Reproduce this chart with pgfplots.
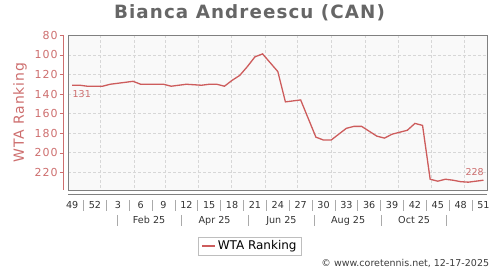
\documentclass[border=0pt]{standalone}
\usepackage{fontspec}
\setmainfont{DejaVu Sans}
\newfontfamily\titlefont[LetterSpace=6]{DejaVu Sans Bold}
\newfontfamily\ylabfont[LetterSpace=6]{DejaVu Sans}
\newfontfamily\ytickfont[LetterSpace=9]{DejaVu Sans}
\usepackage{pgfplots}
\pgfplotsset{compat=1.18}
\definecolor{lineC}{RGB}{205,92,92}
\definecolor{pinkT}{RGB}{205,110,110}
\definecolor{frameC}{RGB}{128,128,128}
\definecolor{gridC}{RGB}{215,215,215}
\definecolor{bgC}{RGB}{249,249,249}
\definecolor{titleC}{RGB}{102,102,102}
\definecolor{sepC}{RGB}{170,170,170}
\begin{document}
\begin{tikzpicture}
\path[use as bounding box] (0,0) rectangle (500pt,270pt);
\begin{axis}[
  at={(68.3pt,80pt)}, anchor=south west,
  scale only axis, width=419pt, height=154.7pt,
  xmin=-0.5, xmax=54.5, ymin=80, ymax=238, y dir=reverse,
  axis background/.style={fill=bgC},
  axis line style={frameC, line width=0.8pt},
  major tick length=0pt,
  xtick={3.75,8.18,12.18,16.61,20.90,25.33,29.62,34.05,38.48,42.77,47.20,51.49},
  xticklabels={},
  xmajorgrids, ymajorgrids,
  grid style={gridC, dash pattern=on 2.5pt off 2.5pt, line width=0.6pt},
  extra x ticks={0,3,6,9,12,15,18,21,24,27,30,33,36,39,42,45,48,51,54},
  extra x tick labels={49,52,3,6,9,12,15,18,21,24,27,30,33,36,39,42,45,48,51},
  extra x tick style={grid=none, major tick length=0pt,
    tick label style={anchor=base, inner sep=0pt, yshift=-18.3pt,
      font=\fontsize{9.6}{11}\selectfont, text={rgb,255:red,50;green,50;blue,50}}},
  ytick={80,100,120,140,160,180,200,220},
  yticklabels={80,100,120,140,160,180,200,220},
  yticklabel style={anchor=east, inner sep=0pt, xshift=-10.5pt,
    font=\ytickfont\fontsize{11}{12}\selectfont, text=pinkT},
  legend style={at={(0.4337,-0.362)}, anchor=center, draw={rgb,255:red,190;green,190;blue,190},
    fill=white, font=\fontsize{12}{14}\selectfont, inner xsep=3pt, inner ysep=1.5pt,
    legend cell align=left},
  legend image code/.code={\draw[#1] (0pt,0pt) -- (13pt,0pt);},
  clip=false,
]
\addplot[lineC, line width=1.3pt] coordinates {
(0,131) (1,131) (2,132) (3,132) (4,132) (5,130) (6,129) (7,128) (8,127)
(9,130) (10,130) (11,130) (12,130) (13,132) (14,131) (15,130) (16,130.5)
(17,131) (18,130) (19,130) (20,132) (21,126) (22,121) (23,112) (24,102)
(25,99) (26,108) (27,117) (28,148) (29,147) (30,146) (31,165) (32,184)
(33,187) (34,187) (35,181) (36,175) (37,173) (38,173) (39,178) (40,183)
(41,185) (42,181) (43,179) (44,177) (45,170) (46,172) (47,227) (48,229)
(49,227) (50,228) (51,229.5) (52,230) (53,229) (54,228)
};
\addlegendentry{WTA Ranking}
\node[anchor=west, inner sep=0pt, text=pinkT, font=\fontsize{9.5}{11}\selectfont] at (axis cs:0.05,139.6) {131};
\node[anchor=east, inner sep=0pt, text=pinkT, font=\fontsize{9.5}{11}\selectfont] at (axis cs:54.05,219.3) {228};
\end{axis}
% pink y axis line and ticks
\draw[pinkT, line width=0.8pt] (63.3pt,80pt) -- (63.3pt,234.7pt);
\foreach \v in {80,100,...,220} {
  \draw[pinkT, line width=0.8pt] (59.5pt,{(234.5-(\v-80)*0.9785)*1pt}) -- (63.3pt,{(234.5-(\v-80)*0.9785)*1pt});
}
% x axis line below
\draw[frameC, line width=0.8pt] (68.3pt,75.7pt) -- (487.3pt,75.7pt);
% week separators
\foreach \i in {1.5,4.5,...,52.5} {
  \draw[sepC, line width=0.7pt] ({(68.3+(\i+0.5)*7.618)*1pt},70pt) -- ({(68.3+(\i+0.5)*7.618)*1pt},59.3pt);
}
% month separators and labels
\foreach \i in {5.93,14.29,23.12,31.84,40.63,49.16} {
  \draw[sepC, line width=0.7pt] ({(68.3+(\i+0.5)*7.618)*1pt},55pt) -- ({(68.3+(\i+0.5)*7.618)*1pt},44.3pt);
}
\foreach \c/\t in {10.11/Feb 25, 18.70/Apr 25, 27.48/Jun 25, 36.23/Aug 25, 44.9/Oct 25} {
  \node[anchor=base, inner sep=0pt, font=\fontsize{9.6}{11}\selectfont, text={rgb,255:red,50;green,50;blue,50}] at ({(68.3+(\c+0.5)*7.618)*1pt},46.5pt) {\t};
}
% y label
\node[rotate=90, text=pinkT, font=\ylabfont\fontsize{14}{16}\selectfont] at (20pt,157.5pt) {WTA Ranking};
% title
\node[anchor=base, text=titleC, font=\titlefont\fontsize{18.3}{20}\selectfont] at (249.5pt,251.7pt) {Bianca Andreescu (CAN)};
% footer
\node[anchor=east, inner sep=0pt, text={rgb,255:red,60;green,60;blue,60}, font=\fontsize{9.5}{11}\selectfont] at (489.3pt,6.7pt) {© www.coretennis.net, 12-17-2025};
\end{tikzpicture}
\end{document}
